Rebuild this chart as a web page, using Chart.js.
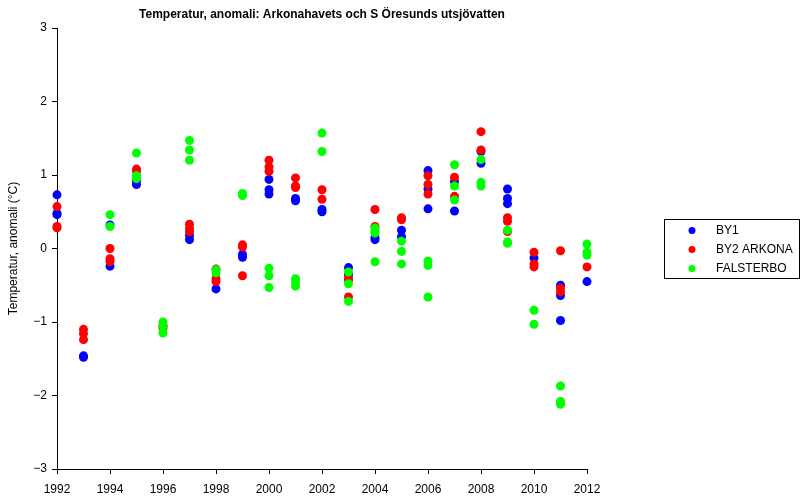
<!DOCTYPE html>
<html>
<head>
<meta charset="utf-8">
<script src="https://cdn.jsdelivr.net/npm/chart.js@4/dist/chart.umd.min.js"></script>
<style>
  html, body { margin: 0; padding: 0; background: #fff; }
  #wrap { width: 802px; height: 498px; }
</style>
</head>
<body>
<div id="wrap"><canvas id="chart"></canvas></div>
<script>
// years on the x axis, each with the measurements of that year
const years = [1992, 1993, 1994, 1995, 1996, 1997, 1998, 1999, 2000, 2001, 2002,
               2003, 2004, 2005, 2006, 2007, 2008, 2009, 2010, 2011, 2012];

const by1 = [
    [0.73, 0.48, 0.46], [-1.46, -1.48], [0.32, -0.24], [0.87, 0.92], [-1.05],
    [0.18, 0.12], [-0.55], [-0.08, -0.12], [0.94, 0.80, 0.74], [0.68, 0.65],
    [0.53, 0.50], [-0.26, -0.36], [0.15, 0.12], [0.25, 0.16], [1.06, 0.81, 0.54],
    [0.91, 0.51], [1.32, 1.16], [0.81, 0.68, 0.61], [-0.13], [-0.50, -0.64, -0.98], [-0.45]
];

const by2Arkona = [
    [0.57, 0.30, 0.28], [-1.10, -1.16, -1.24], [0.0, -0.14, -0.18], [1.08, 1.05], [-1.08],
    [0.33, 0.27, 0.23], [-0.28, -0.41, -0.45], [0.05, 0.02, -0.37], [1.20, 1.11, 1.05], [0.96, 0.85, 0.83],
    [0.80, 0.67], [-0.41, -0.43, -0.66], [0.53, 0.30], [0.42, 0.39], [0.99, 0.87, 0.74],
    [0.97, 0.71], [1.59, 1.34], [0.42, 0.37, 0.23], [-0.05, -0.21, -0.25], [-0.03, -0.54, -0.59], [-0.25]
];

const falsterbo = [
    [], [], [0.46, 0.30], [1.30, 0.99, 0.95], [-1.00, -1.06, -1.15],
    [1.47, 1.34, 1.20], [-0.29, -0.33], [0.75, 0.72], [-0.27, -0.37, -0.53], [-0.41, -0.45, -0.51],
    [1.57, 1.32], [-0.32, -0.48, -0.72], [0.28, 0.24, 0.21, -0.18], [0.10, -0.04, -0.21], [-0.17, -0.23, -0.66],
    [1.14, 0.85, 0.66], [1.21, 0.90, 0.85], [0.25, 0.09, 0.07], [-0.84, -1.03], [-1.87, -2.08, -2.12], [0.06, -0.05, -0.09]
];

const seriesNames = ['BY1', 'BY2 ARKONA', 'FALSTERBO'];
const seriesColors = ['#0000ff', '#ff0000', '#00ff00'];

const yTicks = [-3, -2, -1, 0, 1, 2, 3];
const xTicks = [1992, 1994, 1996, 1998, 2000, 2002, 2004, 2006, 2008, 2010, 2012];

const FONT = '"Liberation Sans", Arial, Helvetica, sans-serif';

function toPoints(groups) {
    const pts = [];
    groups.forEach((vals, i) => {
        vals.forEach(v => pts.push({ x: years[i], y: v }));
    });
    return pts;
}

function minusLabel(v) {
    return v < 0 ? '\u2212' + Math.abs(v) : String(v);
}

// legend drawn as a framed box to the right of the plot
const boxLegend = {
    id: 'boxLegend',
    afterDraw(chart) {
        const ctx = chart.ctx;
        const left = 664.5, top = 219.5, w = 135, h = 59;
        ctx.save();
        ctx.strokeStyle = '#000';
        ctx.lineWidth = 1;
        ctx.strokeRect(left, top, w, h);
        ctx.font = '12px ' + FONT;
        ctx.textBaseline = 'middle';
        ctx.textAlign = 'left';
        chart.data.datasets.forEach((ds, i) => {
            const y = top + 11 + i * 19;
            ctx.beginPath();
            ctx.arc(692, y, 3.5, 0, Math.PI * 2);
            ctx.fillStyle = ds.backgroundColor;
            ctx.fill();
            ctx.fillStyle = '#000';
            ctx.fillText(ds.label, 716, y + 0.5);
        });
        ctx.restore();
    }
};

const datasets = [by1, by2Arkona, falsterbo].map((groups, i) => ({
    label: seriesNames[i],
    data: toPoints(groups),
    backgroundColor: seriesColors[i],
    borderColor: seriesColors[i],
    borderWidth: 0,
    pointRadius: 4.5,
    clip: false,
    order: 2 - i
}));

new Chart(document.getElementById('chart'), {
    type: 'scatter',
    data: { datasets },
    options: {
        responsive: true,
        maintainAspectRatio: false,
        animation: false,
        layout: { padding: { left: 0, right: 215, top: 0, bottom: 0 } },
        plugins: {
            legend: { display: false },
            tooltip: { enabled: false },
            title: {
                display: true,
                fullSize: false,
                text: 'Temperatur, anomali: Arkonahavets och S \u00d6resunds utsj\u00f6vatten',
                color: '#000',
                font: { family: FONT, size: 12, weight: 'bold', lineHeight: 1.2 },
                padding: { top: 7, bottom: 6.6 }
            }
        },
        scales: {
            x: {
                type: 'linear',
                min: 1992,
                max: 2012,
                afterBuildTicks: s => { s.ticks = xTicks.map(v => ({ value: v })); },
                afterFit: s => { s.height = 29; },
                grid: { display: true, drawOnChartArea: false, drawTicks: true, tickLength: 5, color: '#000' },
                border: { display: true, color: '#000', width: 1 },
                ticks: { color: '#000', font: { family: FONT, size: 12 }, padding: 8, maxRotation: 0,
                         callback: v => String(v) }
            },
            y: {
                type: 'linear',
                min: -3,
                max: 3,
                afterBuildTicks: s => { s.ticks = yTicks.map(v => ({ value: v })); },
                afterFit: s => { s.width = 57; },
                grid: { display: true, drawOnChartArea: false, drawTicks: true, tickLength: 5, color: '#000' },
                border: { display: true, color: '#000', width: 1 },
                ticks: { color: '#000', font: { family: FONT, size: 12 }, padding: 5, callback: minusLabel },
                title: {
                    display: true,
                    text: 'Temperatur, anomali (\u00b0C)',
                    color: '#000',
                    font: { family: FONT, size: 12 },
                    padding: { top: 6, bottom: 4 }
                }
            }
        }
    },
    plugins: [boxLegend]
});
</script>
</body>
</html>
